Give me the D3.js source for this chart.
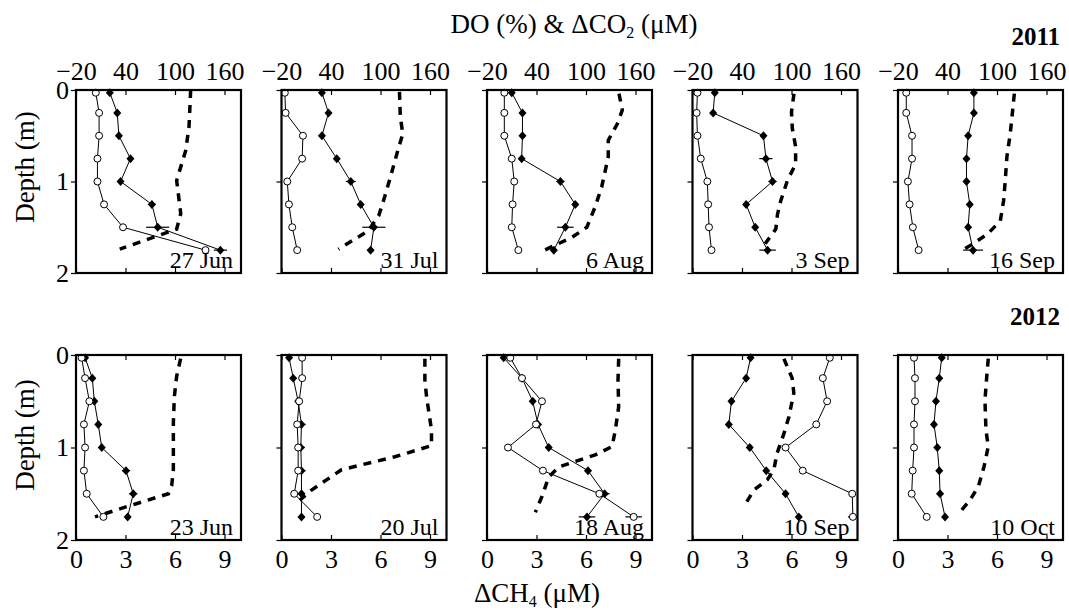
<!DOCTYPE html>
<html>
<head>
<meta charset="utf-8">
<script src="https://cdn.jsdelivr.net/npm/d3@7"></script>
<style>
body{margin:0;background:#fff}
text{font-family:"Liberation Serif","Times New Roman",serif;fill:#000}
</style>
</head>
<body>
<script>
var width = 1069,
    height = 611;

// sampling depths (m)
var depths = [0.03, 0.25, 0.5, 0.75, 1, 1.25, 1.5, 1.75];
var depthTicks = [0, 1, 2];

var dates2011 = ["27 Jun", "31 Jul", "6 Aug", "3 Sep", "16 Sep"];
var dates2012 = ["23 Jun", "20 Jul", "18 Aug", "10 Sep", "10 Oct"];
var ticks2011 = [-20, 40, 100, 160];
var ticks2012 = [0, 3, 6, 9];

// 2011 (DO % & dCO2 uM scale)
var open2011 = [
    [4, 8, 8, 6, 6, 14, 37, 137],
    [-16, -15, 6, 5, -13, -11, -7, -1],
    [1, 1, 1, 10, 13, 11, 10, 18],
    [-14, -15, -14, -10, -2, -1, 0, 3],
    [-10, -10, -3, -3, -8, -6, -2, 5]
];
var openErr2011 = [
    [2, 2, 2, 2, 2, 2, 3, 4],
    [2, 3, 2, 2, 3, 2, 2, 2],
    [2, 2, 2, 2, 2, 2, 2, 2],
    [2, 2, 2, 2, 2, 2, 2, 2],
    [2, 2, 2, 2, 3, 2, 2, 2]
];
var filled2011 = [
    [21, 30, 32, 46, 34, 72, 79, 155],
    [29, 37, 29, 47, 64, 76, 92, 88],
    [10, 23, 23, 22, 69, 87, 75, 61],
    [7, 5, 66, 69, 77, 45, 56, 71],
    [72, 72, 65, 63, 63, 67, 65, 71]
];
var filledErr2011 = [
    [2, 3, 3, 3, 3, 5, 14, 8],
    [2, 3, 3, 3, 6, 3, 14, 4],
    [3, 3, 3, 3, 5, 4, 10, 4],
    [2, 2, 3, 8, 5, 2, 3, 10],
    [2, 2, 3, 3, 4, 3, 3, 12]
];
// dashed profiles: [value, depth]
var dashed2011 = [
    [[119, 0], [117, 0.4], [113, 0.66], [102, 0.99], [107, 1.35], [102, 1.52], [33, 1.74]],
    [[123, 0.02], [124, 0.29], [127, 0.48], [121, 0.66], [113, 0.92], [105, 1.17], [98, 1.37], [85, 1.54], [49, 1.74]],
    [[140, 0.04], [144, 0.22], [138, 0.37], [127, 0.55], [127, 0.73], [119, 1.06], [111, 1.28], [101, 1.5], [83, 1.61], [45, 1.77]],
    [[103, 0.04], [100, 0.24], [101, 0.42], [105, 0.62], [105, 0.81], [95, 0.99], [87, 1.21], [83, 1.36], [81, 1.52], [68, 1.68]],
    [[121, 0.04], [119, 0.22], [116, 0.48], [112, 0.73], [110, 0.99], [108, 1.21], [104, 1.43], [89, 1.57], [71, 1.68], [55, 1.77]]
];

// 2012 (dCH4 uM scale)
var open2012 = [
    [0.34, 0.55, 0.81, 0.48, 0.55, 0.48, 0.65, 1.66],
    [1.25, 1.25, 1.07, 0.95, 1.01, 1.01, 0.77, 2.16],
    [1.41, 2.12, 3.33, 2.97, 1.27, 3.39, 6.81, 8.89],
    [8.32, 7.9, 8.16, 7.5, 5.64, 6.68, 9.68, 9.72],
    [0.97, 1.03, 1.03, 0.97, 0.97, 0.89, 0.83, 1.74]
];
var openErr2012 = [
    [0.12, 0.12, 0.12, 0.12, 0.12, 0.12, 0.12, 0.12],
    [0.12, 0.12, 0.12, 0.12, 0.12, 0.12, 0.12, 0.12],
    [0.12, 0.12, 0.15, 0.12, 0.12, 0.12, 0.15, 0.5],
    [0.12, 0.12, 0.15, 0.12, 0.12, 0.12, 0.12, 0.3],
    [0.12, 0.12, 0.12, 0.12, 0.12, 0.12, 0.12, 0.12]
];
var filled2012 = [
    [0.55, 0.99, 1.11, 1.35, 1.56, 3.03, 3.47, 3.13],
    [0.46, 0.71, 1.01, 1.21, 1.17, 1.21, 1.21, 1.21],
    [1.01, 2.12, 2.77, 3.09, 3.74, 6.12, 7.13, 6.06],
    [3.52, 3.25, 2.36, 2.2, 3.47, 4.47, 5.64, 6.44],
    [2.65, 2.5, 2.3, 2.18, 2.38, 2.5, 2.55, 2.85]
];
var filledErr2012 = [
    [0.15, 0.15, 0.15, 0.15, 0.2, 0.25, 0.25, 0.15],
    [0.15, 0.15, 0.15, 0.25, 0.25, 0.25, 0.15, 0.2],
    [0.15, 0.15, 0.15, 0.2, 0.15, 0.2, 0.3, 0.5],
    [0.15, 0.15, 0.15, 0.15, 0.15, 0.15, 0.15, 0.15],
    [0.15, 0.2, 0.15, 0.15, 0.15, 0.2, 0.2, 0.15]
];
var dashed2012 = [
    [[6.34, 0.04], [6.1, 0.23], [5.96, 0.45], [5.9, 0.74], [5.9, 0.99], [5.9, 1.24], [5.8, 1.41], [5.6, 1.5], [3.07, 1.64], [1.15, 1.75]],
    [[8.69, 0.04], [8.69, 0.27], [8.79, 0.45], [9.09, 0.81], [9.09, 0.98], [6.87, 1.1], [3.64, 1.24], [1.82, 1.46], [1.11, 1.57]],
    [[7.98, 0.04], [7.94, 0.27], [7.98, 0.56], [7.78, 0.81], [7.58, 0.99], [6.56, 1.08], [5.35, 1.15], [4.35, 1.21], [3.74, 1.32], [3.33, 1.53], [2.93, 1.7]],
    [[5.54, 0.04], [6.04, 0.25], [6.14, 0.41], [5.84, 0.67], [5.54, 0.85], [5.13, 1.06], [4.93, 1.24], [4.53, 1.35], [3.72, 1.46], [3.11, 1.64]],
    [[5.47, 0.04], [5.38, 0.23], [5.27, 0.49], [5.33, 0.81], [5.47, 0.99], [5.21, 1.21], [4.87, 1.42], [4.36, 1.57], [3.65, 1.72]]
];

var panelW = 165,
    colLeft = function(i) { return 76 + i * 205.5; };

var rows = [
    {top: 90, h: 183, dates: dates2011, ticks: ticks2011, domain: [-20, 180], labelTop: true,
     open: open2011, openErr: openErr2011, filled: filled2011, filledErr: filledErr2011, dashed: dashed2011},
    {top: 355, h: 185, dates: dates2012, ticks: ticks2012, domain: [0, 10], labelTop: false,
     open: open2012, openErr: openErr2012, filled: filled2012, filledErr: filledErr2012, dashed: dashed2012}
];

var svg = d3.select("body").append("svg")
    .attr("width", width)
    .attr("height", height);

function styleAxis(g) {
    g.select(".domain").remove();
    g.selectAll("text").attr("font-size", 26).attr("font-family", "Liberation Serif");
    g.selectAll("line").attr("stroke-width", 1.2);
}

rows.forEach(function(row, r) {
    var x = d3.scaleLinear().domain(row.domain).range([0, panelW]);
    var y = d3.scaleLinear().domain([0, 2]).range([0, row.h]);

    var line = d3.line()
        .x(function(d) { return x(d[0]); })
        .y(function(d) { return y(d[1]); });

    row.dates.forEach(function(date, i) {
        var g = svg.append("g")
            .attr("transform", "translate(" + colLeft(i) + "," + row.top + ")");

        var topAxis = d3.axisTop(x).tickValues(row.ticks).tickSize(-5).tickPadding(10);
        var botAxis = d3.axisBottom(x).tickValues(row.ticks).tickSize(-5).tickPadding(10);
        if (row.labelTop) botAxis.tickFormat("");
        else topAxis.tickFormat("");

        g.append("g").call(topAxis).call(styleAxis);
        g.append("g").attr("transform", "translate(0," + row.h + ")").call(botAxis).call(styleAxis);

        var leftAxis = d3.axisLeft(y).tickValues(depthTicks).tickSize(5).tickPadding(2)
            .tickFormat(i > 0 ? "" : d3.format("d"));
        g.append("g").call(leftAxis).call(styleAxis);

        var open = row.open[i].map(function(v, k) { return [v, depths[k], row.openErr[i][k]]; });
        var filled = row.filled[i].map(function(v, k) { return [v, depths[k], row.filledErr[i][k]]; });

        // dashed profile
        g.append("path")
            .attr("d", line(row.dashed[i]))
            .attr("fill", "none")
            .attr("stroke", "#000")
            .attr("stroke-width", 3.5)
            .attr("stroke-dasharray", "8,7");

        [open, filled].forEach(function(s) {
            g.append("path")
                .attr("d", line(s))
                .attr("fill", "none")
                .attr("stroke", "#000")
                .attr("stroke-width", 1);
            g.selectAll(null).data(s).enter().append("line")
                .attr("x1", function(d) { return x(d[0] - d[2]); })
                .attr("x2", function(d) { return x(d[0] + d[2]); })
                .attr("y1", function(d) { return y(d[1]); })
                .attr("y2", function(d) { return y(d[1]); })
                .attr("stroke", "#000")
                .attr("stroke-width", 1.2);
        });

        g.selectAll(null).data(filled).enter().append("path")
            .attr("d", "M0,-4.5L4,0L0,4.5L-4,0Z")
            .attr("transform", function(d) { return "translate(" + x(d[0]) + "," + y(d[1]) + ")"; })
            .attr("fill", "#000");

        g.selectAll(null).data(open).enter().append("circle")
            .attr("cx", function(d) { return x(d[0]); })
            .attr("cy", function(d) { return y(d[1]); })
            .attr("r", 3.5)
            .attr("fill", "#fff")
            .attr("stroke", "#000")
            .attr("stroke-width", 1);

        g.append("rect")
            .attr("width", panelW)
            .attr("height", row.h)
            .attr("fill", "none")
            .attr("stroke", "#000")
            .attr("stroke-width", 2.2);

        g.append("text")
            .attr("x", panelW - 8)
            .attr("y", row.h - 5)
            .attr("text-anchor", "end")
            .attr("font-size", 24)
            .text(date);
    });

    svg.append("text")
        .attr("transform", "translate(34," + (row.top + (r === 0 ? 77 : 80)) + ") rotate(-90)")
        .attr("text-anchor", "middle")
        .attr("font-size", 27)
        .text("Depth (m)");
});

// titles
var t1 = svg.append("text")
    .attr("x", 574)
    .attr("y", 33)
    .attr("text-anchor", "middle")
    .attr("font-size", 27);
t1.append("tspan").text("DO (%) & \u0394CO");
t1.append("tspan").attr("font-size", 16).attr("dy", 5).text("2");
t1.append("tspan").attr("dy", -5).text(" (\u03bcM)");

var t2 = svg.append("text")
    .attr("x", 537)
    .attr("y", 602)
    .attr("text-anchor", "middle")
    .attr("font-size", 27);
t2.append("tspan").text("\u0394CH");
t2.append("tspan").attr("font-size", 16).attr("dy", 5).text("4");
t2.append("tspan").attr("dy", -5).text(" (\u03bcM)");

svg.append("text")
    .attr("x", 1060).attr("y", 45)
    .attr("text-anchor", "end")
    .attr("font-size", 25)
    .attr("font-weight", "bold")
    .text("2011");
svg.append("text")
    .attr("x", 1060).attr("y", 325)
    .attr("text-anchor", "end")
    .attr("font-size", 25)
    .attr("font-weight", "bold")
    .text("2012");
</script>
</body>
</html>
